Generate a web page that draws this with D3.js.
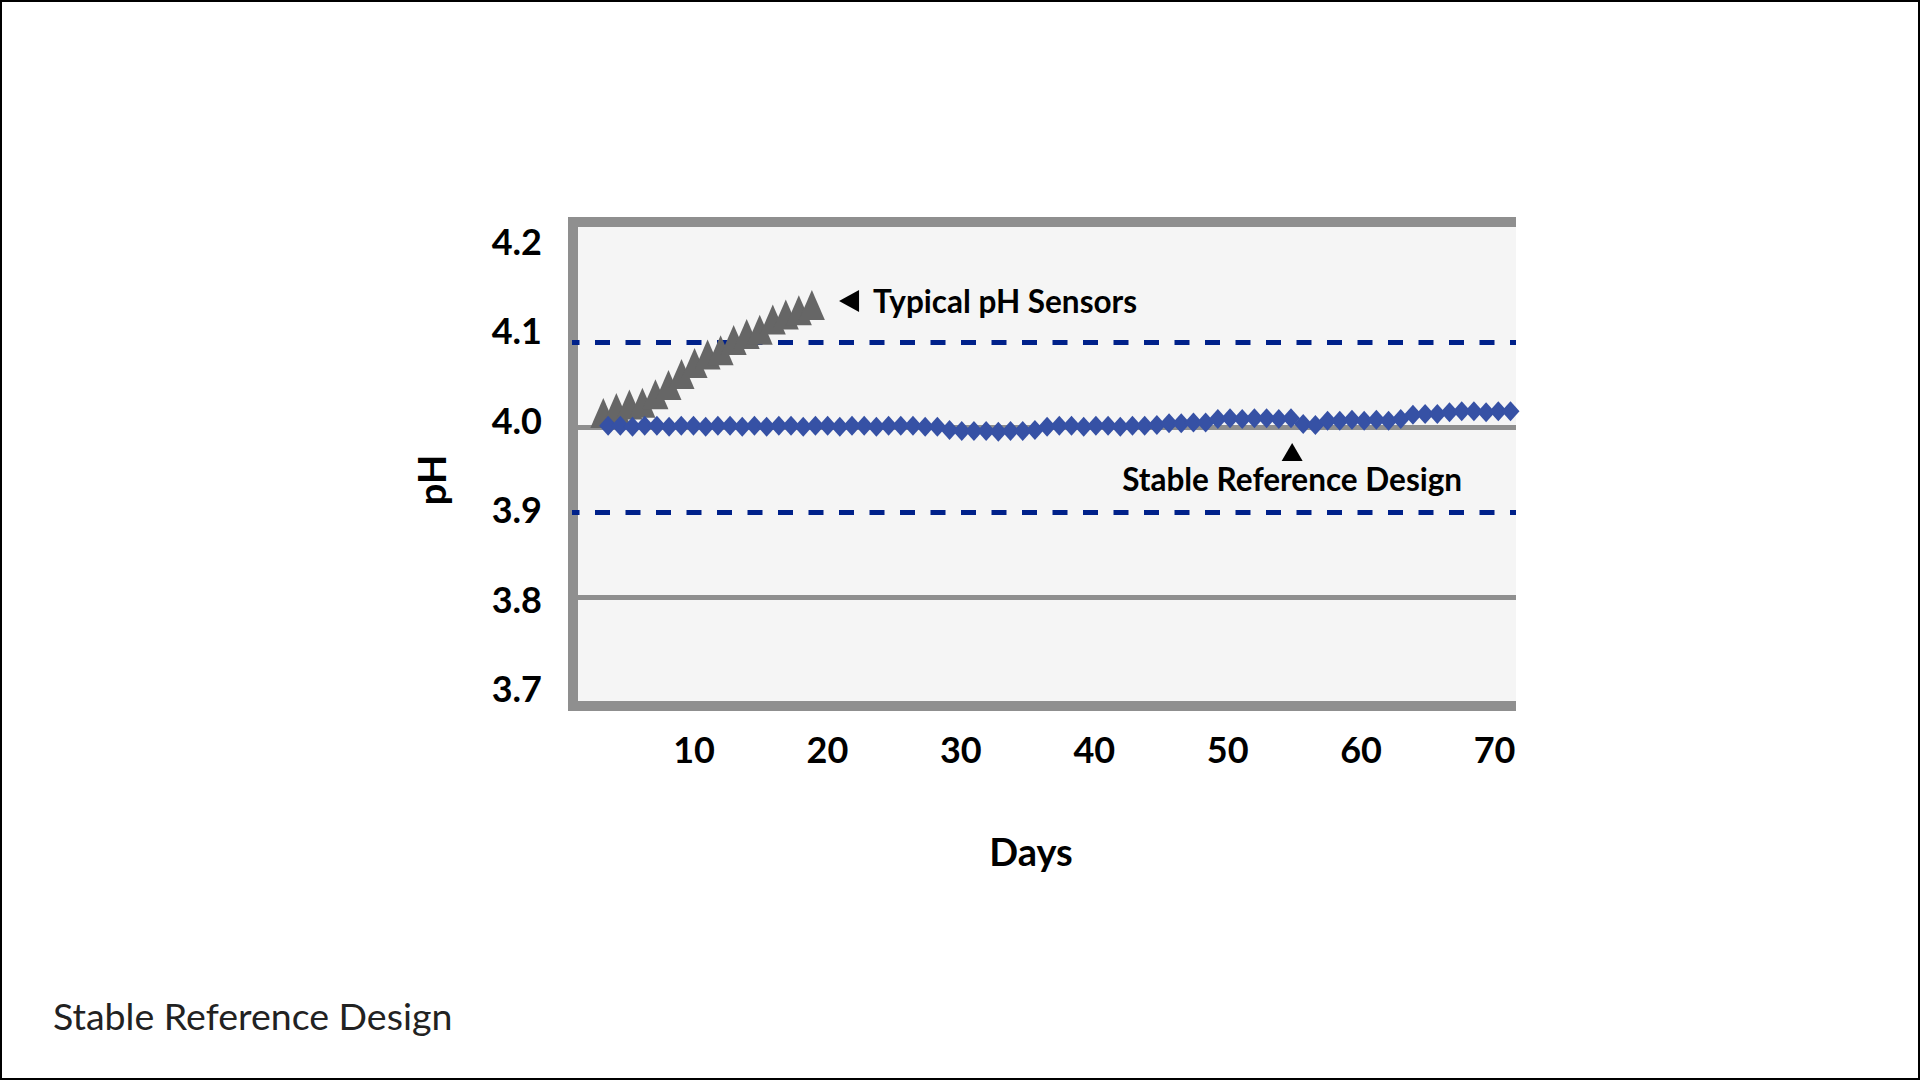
<!DOCTYPE html>
<html>
<head>
<meta charset="utf-8">
<script src="https://cdn.jsdelivr.net/npm/d3@7"></script>
<style>
    body { margin: 0; background: #fff; }
    svg { display: block; }
    text { font-family: Lato, "Noto Sans", sans-serif; }
</style>
</head>
<body>
<div id="chart"></div>
<script>
// tick labels
const xTickLabels = [10, 20, 30, 40, 50, 60, 70];
const yTickLabels = [3.7, 3.8, 3.9, 4.0, 4.1, 4.2];
const solidLines = [4.0, 3.8];
const dashedLines = [4.1, 3.9];

// typical pH sensors (gray triangles)
const typicalStartDay = 3.24;
const typicalStep = 0.977;
const typicalPH = [4.017, 4.023, 4.027, 4.029, 4.039, 4.05, 4.063, 4.076, 4.086,
    4.091, 4.103, 4.11, 4.115, 4.127, 4.133, 4.138, 4.144];

// stable reference design (blue diamonds)
const stableStartDay = 3.6;
const stableStep = 0.914;
const stablePH = [
    4.002, 4.002, 4.001, 4.002, 4.002, 4.001, 4.002, 4.002, 4.001, 4.002,
    4.002, 4.001, 4.002, 4.001, 4.002, 4.002, 4.001, 4.002, 4.002, 4.001,
    4.002, 4.002, 4.001, 4.002, 4.002, 4.002, 4.001, 4.001, 3.997, 3.996,
    3.996, 3.996, 3.995, 3.996, 3.996, 3.997, 4.001, 4.002, 4.002, 4.001,
    4.002, 4.002, 4.001, 4.002, 4.002, 4.003, 4.005, 4.005, 4.006, 4.006,
    4.01, 4.011, 4.01, 4.011, 4.011, 4.01, 4.011, 4.004, 4.003, 4.008,
    4.008, 4.009, 4.008, 4.009, 4.008, 4.01, 4.015, 4.016, 4.016, 4.018,
    4.019, 4.019, 4.018, 4.019, 4.019
];

const typicalDays = typicalPH.map((d, i) => typicalStartDay + i * typicalStep);
const stableDays = stablePH.map((d, i) => stableStartDay + i * stableStep);

const width = 1920, height = 1080;
const plot = { left: 573, right: 1516, top: 222, bottom: 706 };

const svg = d3.select("#chart").append("svg")
    .attr("width", width)
    .attr("height", height);

// slide border
svg.append("rect")
    .attr("x", 1).attr("y", 1)
    .attr("width", width - 2).attr("height", height - 2)
    .attr("fill", "#fff")
    .attr("stroke", "#000")
    .attr("stroke-width", 2);

// scales
var x = d3.scaleLinear().domain([10, 70]).range([693.5, 1494]);
var y = d3.scaleLinear().domain([3.7, 4.2]).range([682.5, 257.5]);
// the tick labels sit on a slightly wider spacing than the gridlines
var yLabel = d3.scaleLinear().domain([3.7, 4.2]).range([690, 243]);

// plot background
svg.append("rect")
    .attr("x", plot.left).attr("y", plot.top)
    .attr("width", plot.right - plot.left)
    .attr("height", plot.bottom - plot.top)
    .attr("fill", "#f5f5f5");

// solid gridlines
svg.selectAll("line.grid")
    .data(solidLines)
    .enter()
    .append("line")
    .attr("class", "grid")
    .attr("x1", plot.left).attr("x2", plot.right)
    .attr("y1", d => y(d)).attr("y2", d => y(d))
    .attr("stroke", "#8f8f8f")
    .attr("stroke-width", 5);

// frame (left, top, bottom)
svg.append("path")
    .attr("d", `M${plot.right},${plot.top} H${plot.left} V${plot.bottom} H${plot.right}`)
    .attr("fill", "none")
    .attr("stroke", "#8f8f8f")
    .attr("stroke-width", 10);

// dashed limits
svg.selectAll("line.limit")
    .data(dashedLines)
    .enter()
    .append("line")
    .attr("class", "limit")
    .attr("x1", plot.left - 1).attr("x2", plot.right)
    .attr("y1", d => y(d)).attr("y2", d => y(d))
    .attr("stroke", "#00218a")
    .attr("stroke-width", 5)
    .attr("stroke-dasharray", "15,15.5")
    .attr("stroke-dashoffset", 7.5);

// triangles
const triW = 26, triH = 30;
svg.selectAll("path.typical")
    .data(typicalPH)
    .enter()
    .append("path")
    .attr("class", "typical")
    .attr("d", `M0,${-triH / 2} L${triW / 2},${triH / 2} L${-triW / 2},${triH / 2} Z`)
    .attr("transform", (d, i) => `translate(${x(typicalDays[i])},${y(d)})`)
    .attr("fill", "#666666");

// diamonds
const diaW = 18, diaH = 20;
svg.selectAll("path.stable")
    .data(stablePH)
    .enter()
    .append("path")
    .attr("class", "stable")
    .attr("d", `M0,${-diaH / 2} L${diaW / 2},0 L0,${diaH / 2} L${-diaW / 2},0 Z`)
    .attr("transform", (d, i) => `translate(${x(stableDays[i])},${y(d)})`)
    .attr("fill", "#3651a5");

// axes
var yAxis = svg.append("g")
    .attr("transform", "translate(552,0)")
    .call(d3.axisLeft(yLabel).tickValues(yTickLabels).tickSize(0).tickPadding(10)
        .tickFormat(d3.format(".1f")));
yAxis.select(".domain").remove();
yAxis.selectAll(".tick text")
    .attr("font-size", 36)
    .attr("font-weight", "bold")
    .attr("font-family", "Lato, 'Noto Sans', sans-serif")
    .attr("fill", "#000");

var xAxis = svg.append("g")
    .attr("transform", "translate(0,737)")
    .call(d3.axisBottom(x).tickValues(xTickLabels).tickSize(0).tickPadding(0));
xAxis.select(".domain").remove();
xAxis.selectAll(".tick text")
    .attr("font-size", 36)
    .attr("font-weight", "bold")
    .attr("font-family", "Lato, 'Noto Sans', sans-serif")
    .attr("fill", "#000");

// axis titles
svg.append("text")
    .attr("transform", "translate(431,480) rotate(-90)")
    .attr("text-anchor", "middle")
    .attr("dominant-baseline", "central")
    .attr("font-size", 38)
    .attr("font-weight", "bold")
    .text("pH");

svg.append("text")
    .attr("x", 1031).attr("y", 866)
    .attr("text-anchor", "middle")
    .attr("font-size", 38)
    .attr("font-weight", "bold")
    .text("Days");

// annotations
const typNote = { day: 21.66, ph: 4.1488 };
const tx = x(typNote.day), ty = y(typNote.ph);
svg.append("path")
    .attr("d", `M${tx - 10},${ty} L${tx + 10},${ty - 11} L${tx + 10},${ty + 11} Z`)
    .attr("fill", "#000");
svg.append("text")
    .attr("x", tx + 24).attr("y", ty + 12)
    .attr("font-size", 31.5)
    .attr("font-weight", "bold")
    .text("Typical pH Sensors");

const stableNote = { day: 54.87, ph: 3.9712 };
const sx = x(stableNote.day), sy = y(stableNote.ph);
svg.append("path")
    .attr("d", `M${sx},${sy - 9} L${sx + 10.5},${sy + 9} L${sx - 10.5},${sy + 9} Z`)
    .attr("fill", "#000");
svg.append("text")
    .attr("x", sx).attr("y", sy + 39)
    .attr("text-anchor", "middle")
    .attr("font-size", 31.5)
    .attr("font-weight", "bold")
    .text("Stable Reference Design");

// footer caption
svg.append("text")
    .attr("x", 53).attr("y", 1030)
    .attr("font-size", 37.5)
    .attr("fill", "#222")
    .text("Stable Reference Design");
</script>
</body>
</html>
